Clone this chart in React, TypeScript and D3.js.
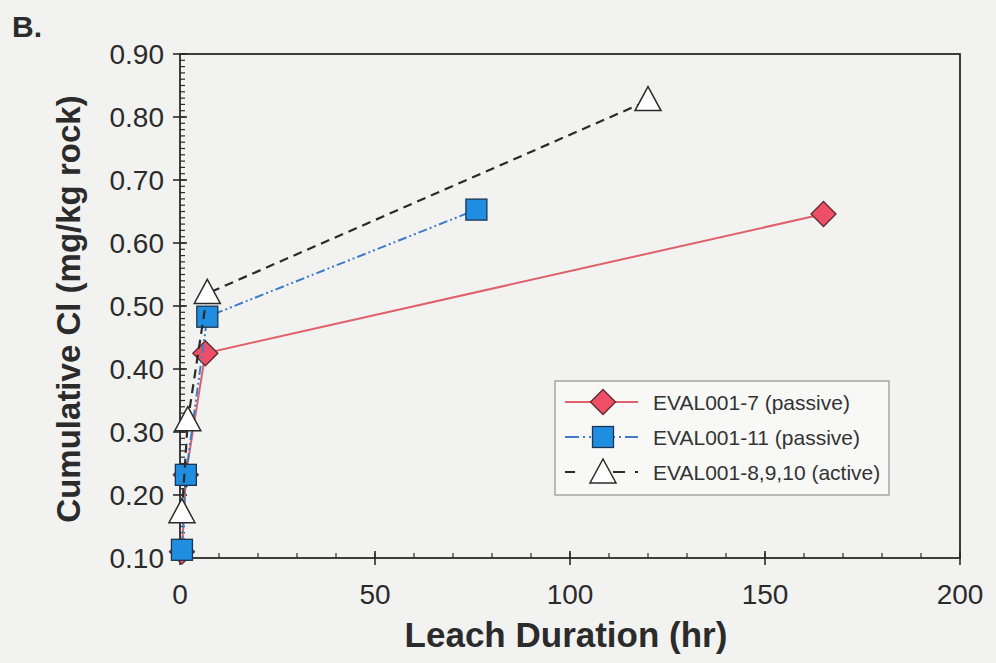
import React from "react";
import * as d3 from "d3";

const redX = [0.5, 1.5, 6.5, 165];
const redY = [0.11, 0.232, 0.425, 0.646];
const blueX = [0.5, 1.5, 7, 76];
const blueY = [0.113, 0.232, 0.483, 0.653];
const blackX = [0.5, 2, 7, 120];
const blackY = [0.172, 0.318, 0.52, 0.826];
const seriesNames = ["EVAL001-7 (passive)", "EVAL001-11 (passive)", "EVAL001-8,9,10 (active)"];
const xTicks = [0, 50, 100, 150, 200];
const yTicks = [0.1, 0.2, 0.3, 0.4, 0.5, 0.6, 0.7, 0.8, 0.9];

const W = 996, H = 663;
const L = 180, R = 960, T = 54, B = 558;

export default function App() {
  const x = d3.scaleLinear().domain([0, 200]).range([L, R]);
  const y = d3.scaleLinear().domain([0.1, 0.9]).range([B, T]);
  const line = d3.line<[number, number]>().x(d => x(d[0])).y(d => y(d[1]));
  const pts = (xs: number[], ys: number[]) => xs.map((v, i) => [v, ys[i]] as [number, number]);
  const red = pts(redX, redY), blue = pts(blueX, blueY), black = pts(blackX, blackY);
  const xMinor = d3.range(0, 201, 10);
  const yMinor = d3.range(0, 81, 1).map(i => 0.1 + i * 0.01);
  const font = "Arial, 'Liberation Sans', Helvetica, sans-serif";
  const axisC = "#2a2a2a";
  const txtC = "#2b2b2b";

  const diamond = (cx: number, cy: number, k: string | number) => (
    <path key={k} d={`M${cx},${cy - 12.5}L${cx + 12.5},${cy}L${cx},${cy + 12.5}L${cx - 12.5},${cy}Z`} fill="#ee4f66" stroke="#5a2a30" strokeWidth={1.3} />
  );
  const square = (cx: number, cy: number, k: string | number) => (
    <rect key={k} x={cx - 10.5} y={cy - 10.5} width={21} height={21} fill="#1f8ee0" stroke="#1d3550" strokeWidth={1.3} />
  );
  const tri = (cx: number, cy: number, k: string | number) => (
    <path key={k} d={`M${cx},${cy - 14}L${cx + 13},${cy + 10}L${cx - 13},${cy + 10}Z`} fill="#ffffff" stroke="#2a2a2a" strokeWidth={1.5} />
  );

  const legY = [402, 437, 472];
  return (
    <svg width={W} height={H} style={{ position: "absolute", left: 0, top: 0, background: "#f2f3f1" }} fontFamily={font}>
      <rect x={0} y={0} width={W} height={H} fill="#f2f3f1" />
      <text x={12} y={37} fontSize={30} fontWeight="bold" fill={txtC}>B.</text>
      {/* frame */}
      <rect x={L} y={T} width={R - L} height={B - T} fill="none" stroke={axisC} strokeWidth={1.8} />
      {/* y ticks */}
      {yMinor.map((v, i) => (
        <line key={"ym" + i} x1={L} x2={L + 5} y1={y(v)} y2={y(v)} stroke={axisC} strokeWidth={1.2} />
      ))}
      {yTicks.map((v, i) => (
        <g key={"yt" + i}>
          <line x1={L - 7} x2={L + 7} y1={y(v)} y2={y(v)} stroke={axisC} strokeWidth={1.6} />
          <text x={164} y={y(v)} dy="0.36em" textAnchor="end" fontSize={28} fill={txtC}>{v.toFixed(2)}</text>
        </g>
      ))}
      {/* x ticks */}
      {xMinor.map((v, i) => (
        <line key={"xm" + i} x1={x(v)} x2={x(v)} y1={B} y2={B - 5} stroke={axisC} strokeWidth={1.2} />
      ))}
      {xTicks.map((v, i) => (
        <g key={"xt" + i}>
          <line x1={x(v)} x2={x(v)} y1={B - 7} y2={B + 7} stroke={axisC} strokeWidth={1.6} />
          <text x={x(v)} y={604} textAnchor="middle" fontSize={28} fill={txtC}>{v}</text>
        </g>
      ))}
      <text x={566} y={647} textAnchor="middle" fontSize={35} fontWeight="bold" fill={txtC}>Leach Duration (hr)</text>
      <text transform={`translate(80,309) rotate(-90)`} textAnchor="middle" fontSize={33} fontWeight="bold" fill={txtC}>Cumulative Cl (mg/kg rock)</text>

      {/* series */}
      <path d={line(red) || ""} fill="none" stroke="#e0606c" strokeWidth={2} />
      {red.map((p, i) => diamond(x(p[0]), y(p[1]), "r" + i))}
      <path d={line(blue) || ""} fill="none" stroke="#3d7cc8" strokeWidth={2} strokeDasharray="9,3,2,3,2,3" />
      {blue.map((p, i) => square(x(p[0]), y(p[1]), "b" + i))}
      <path d={line(black) || ""} fill="none" stroke="#2a2a2a" strokeWidth={2.2} strokeDasharray="9,6" />
      {black.map((p, i) => tri(x(p[0]), y(p[1]), "k" + i))}

      {/* legend */}
      <rect x={555} y={381} width={334} height={114} fill="#f8f9f7" stroke="#9a9a9a" strokeWidth={1.3} />
      <line x1={565} x2={638} y1={legY[0]} y2={legY[0]} stroke="#e0606c" strokeWidth={2} />
      {diamond(603, legY[0], "ld")}
      <line x1={565} x2={638} y1={legY[1]} y2={legY[1]} stroke="#3d7cc8" strokeWidth={2} strokeDasharray="14,4,2,4,2,4" />
      {square(603, legY[1], "ls")}
      <line x1={565} x2={638} y1={legY[2]} y2={legY[2]} stroke="#2a2a2a" strokeWidth={2.2} strokeDasharray="10,38,12" />
      {tri(603, legY[2] + 1, "lt")}
      {seriesNames.map((s, i) => (
        <text key={"lt" + i} x={653} y={legY[i] + 1} dy="0.35em" fontSize={21} fill="#333">{s}</text>
      ))}
    </svg>
  );
}
